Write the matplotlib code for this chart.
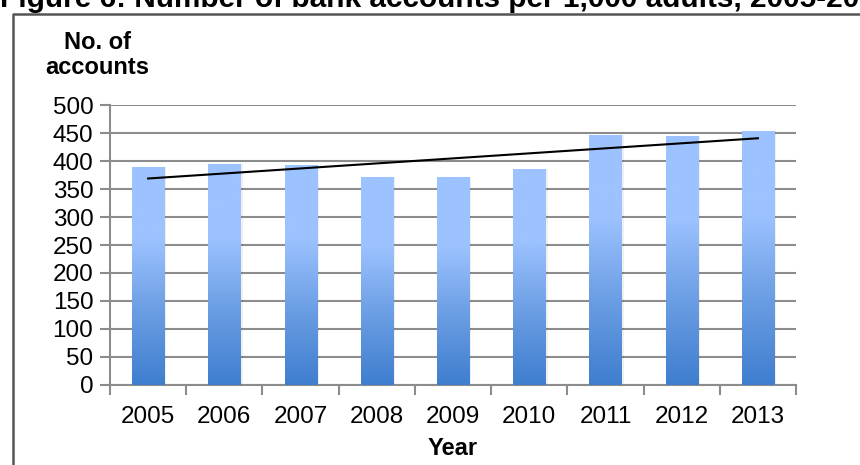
import numpy as np
import matplotlib.pyplot as plt
from matplotlib.colors import LinearSegmentedColormap

plt.rcParams['font.family'] = ['Liberation Sans', 'DejaVu Sans']

# data
years = ['2005', '2006', '2007', '2008', '2009', '2010', '2011', '2012', '2013']
accounts = [389, 395, 393, 372, 372, 386, 447, 445, 454]
trend_years = ['2005', '2013']
trend_values = [369, 441]
y_ticks = [0, 50, 100, 150, 200, 250, 300, 350, 400, 450, 500]

title = 'Figure 6: Number of bank accounts per 1,000 adults, 2005-2013'

fig = plt.figure(figsize=(8.6, 4.65), dpi=100)
ax = fig.add_axes([110 / 860, 1 - 384.7 / 465, 686 / 860, 279.4 / 465])

# bars with a vertical gradient (light on top, darker at the bottom)
grad = LinearSegmentedColormap.from_list('bar', ['#3f7ecf', '#6a9de3', '#9cc2ff', '#9cc2ff'])
x = np.arange(len(years))
width = 0.42
bars = ax.bar(x, accounts, width=width, color='none', zorder=3)
g = np.linspace(0, 1, 256).reshape(-1, 1)
for b in bars:
    x0, h = b.get_x(), b.get_height()
    # soft shadow to the right
    ax.bar(x0 + width / 2 + 0.03, h, width=width, color='#000000', alpha=0.06, zorder=2)
    ax.imshow(g, extent=(x0, x0 + width, 0, h), origin='lower', cmap=grad,
              aspect='auto', zorder=3)

# trend line
tx = [years.index(t) for t in trend_years]
ax.plot(tx, trend_values, color='black', lw=1.5, zorder=4)

ax.set_xlim(-0.5, len(years) - 0.5)
ax.set_ylim(0, 500)
ax.set_yticks(y_ticks)
ax.set_xticks(x)
ax.set_xticklabels(years, fontsize=17.5)
ax.set_xticks(np.arange(-0.5, len(years)), minor=True)
ax.tick_params(axis='x', which='major', length=0, pad=15)
ax.tick_params(axis='x', which='minor', length=7, width=1.5, color='#8c8c8c')
ax.tick_params(axis='y', length=7, width=1.5, color='#8c8c8c', labelsize=17.5, pad=5)

ax.grid(axis='y', color='#8c8c8c', lw=1.5, zorder=0)
ax.set_axisbelow(True)
for side in ['top', 'right']:
    ax.spines[side].set_visible(False)
for side in ['left', 'bottom']:
    ax.spines[side].set_color('#8c8c8c')
    ax.spines[side].set_linewidth(1.5)

ax.set_xlabel('Year', fontsize=17, fontweight='bold', labelpad=7)
fig.text(97 / 860, 1 - 55 / 465, 'No. of\naccounts', fontsize=17, fontweight='bold',
         ha='center', va='center', linespacing=1.1)

# outer frame around the chart
fig.add_artist(plt.Line2D([12.5 / 860, 12.5 / 860, 1.0], [0, 1 - 14 / 465, 1 - 14 / 465],
                          transform=fig.transFigure, color='#555555', lw=1.8))

fig.text(0.0, 1 - 7 / 465, title, fontsize=21.4, fontweight='bold', ha='left', va='baseline')

fig.savefig('out.png', dpi=100)
